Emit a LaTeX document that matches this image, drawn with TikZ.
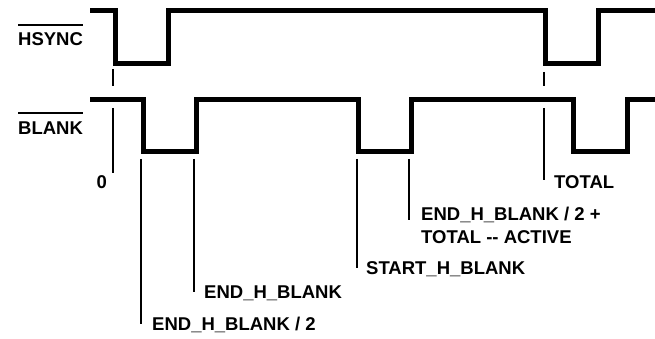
\documentclass[tikz,border=0pt]{standalone}
\usepackage{fontspec}
\setmainfont{Liberation Sans}
\begin{document}
\begin{tikzpicture}[x=1pt,y=-1pt,
  wave/.style={line width=5pt,line join=miter,line cap=butt},
  mark line/.style={line width=2pt},
  lbl/.style={font=\fontsize{18.5}{22}\selectfont\bfseries,inner sep=0pt},
  sig/.style={font=\fontsize{18.5}{22}\selectfont\bfseries,inner sep=0pt,anchor=west}]
\useasboundingbox (0,0) rectangle (655,339);
% signal names with bars
\node[sig] (hs) at (18,39) {HSYNC};
\draw[line width=1.8pt] ([yshift=14pt]hs.west) -- ([yshift=14pt]hs.east);
\node[sig] (bl) at (18,128) {BLANK};
\draw[line width=1.8pt] ([yshift=15pt]bl.west) -- ([yshift=15pt]bl.east);
% waveforms
\draw[wave] (90,11) -- (115,11) -- (115,63.5) -- (168.5,63.5) -- (168.5,11)
  -- (545,11) -- (545,63.5) -- (598.5,63.5) -- (598.5,11) -- (655,11);
\draw[wave] (90,99.5) -- (143,99.5) -- (143,151.5) -- (196,151.5) -- (196,99.5)
  -- (358,99.5) -- (358,151.5) -- (411.7,151.5) -- (411.7,99.5)
  -- (573,99.5) -- (573,151.5) -- (627,151.5) -- (627,99.5) -- (655,99.5);
% ticks under HSYNC
\coordinate (t0a) at (113,69); \coordinate (t0b) at (113,86);
\coordinate (t1a) at (544,72); \coordinate (t1b) at (544,86);
\draw[mark line] (t0a) -- (t0b);
\draw[mark line] (t1a) -- (t1b);
% reference lines and labels
\coordinate (z0) at (113,108); \coordinate (z1) at (113,173);
\draw[mark line] (z0) -- (z1);
\node[lbl,anchor=east] (l0) at (107,182) {0};

\coordinate (tt0) at (544,108); \coordinate (tt1) at (544,180);
\draw[mark line] (tt0) -- (tt1);
\node[lbl,anchor=west] (ltot) at (554,182) {TOTAL};

\coordinate (a0) at (141,159); \coordinate (a1) at (141,324);
\draw[mark line] (a0) -- (a1);
\node[lbl,anchor=west] (la) at (152,325) {END\_H\_BLANK / 2};

\coordinate (b0) at (193.7,159); \coordinate (b1) at (193.7,292);
\draw[mark line] (b0) -- (b1);
\node[lbl,anchor=west] (lb) at (204,293) {END\_H\_BLANK};

\coordinate (c0) at (356.5,159); \coordinate (c1) at (356.5,268);
\draw[mark line] (c0) -- (c1);
\node[lbl,anchor=west] (lc) at (366,269) {START\_H\_BLANK};

\coordinate (d0) at (409,159); \coordinate (d1) at (409,220);
\draw[mark line] (d0) -- (d1);
\node[lbl,anchor=west] (ld1) at (421,215) {END\_H\_BLANK / 2 +};
\node[lbl,anchor=west] (ld2) at (421,237) {TOTAL {-}{-} ACTIVE};
\end{tikzpicture}
\end{document}
